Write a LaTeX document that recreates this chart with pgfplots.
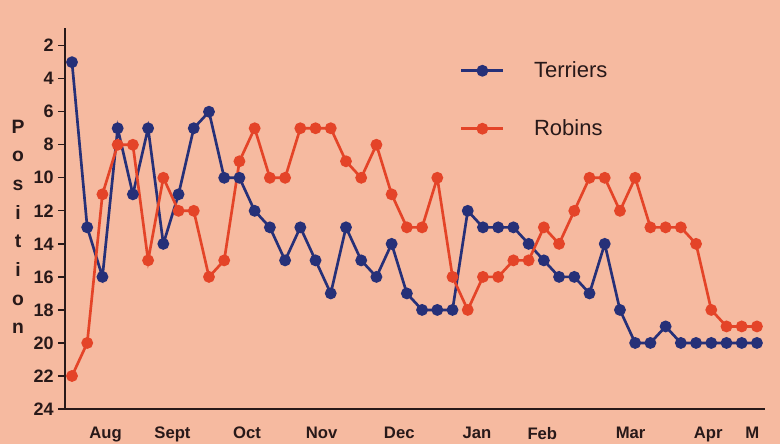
\documentclass[border=0pt]{standalone}
\usepackage{pgfplots}
\pgfplotsset{compat=1.18}
\usepackage{fontspec}
\setmainfont{Liberation Sans}
\definecolor{bg}{RGB}{246,186,160}
\definecolor{terr}{RGB}{38,48,120}
\definecolor{rob}{RGB}{228,68,40}
\definecolor{ink}{RGB}{40,25,25}
\begin{document}
\begin{tikzpicture}[x=1pt,y=1pt]
\fill[bg] (0,0) rectangle (585,333);
\path[use as bounding box] (0,0) rectangle (585,333);
\begin{axis}[
  at={(48.75pt,26.25pt)}, anchor=south west,
  scale only axis, width=525pt, height=285.75pt,
  xmin=-0.46, xmax=45.53, ymin=0.93, ymax=24, y dir=reverse,
  axis x line*=bottom, axis y line*=left,
  axis line style={line width=1.8pt, ink},
  ytick={2,4,...,24},
  xtick={2.2,6.6,11.5,16.4,21.5,26.6,30.9,36.7,41.8,44.7},
  xticklabels={Aug,Sept,Oct,Nov,Dec,Jan,Feb,Mar,Apr,M},
  x tick style={draw=none},
  y tick style={line width=1pt, ink},
  major tick length=5pt, tick align=outside,
  /pgf/number format/assume math mode=true,
  yticklabel style={font=\fontsize{13.5}{13.5}\selectfont\bfseries, text=ink},
  xticklabel style={font=\fontsize{12.5}{12.5}\selectfont\bfseries, text=ink, yshift=-5pt},
  ylabel={P\\o\\s\\i\\t\\i\\o\\n},
  ylabel style={rotate=-90, at={(axis description cs:-0.0671,0.478)}, anchor=center,
    align=center, font=\fontsize{14.5}{21.5}\selectfont\bfseries, text=ink},
  legend style={draw=none, fill=none, at={(0.564,0.919)}, anchor=north west,
    font=\fontsize{16.5}{16.5}\selectfont, text=ink, cells={anchor=west},
    row sep=26pt, column sep=20pt, inner sep=0pt},
  legend image code/.code={\draw[mark repeat=2,mark phase=2,#1] plot coordinates {(0pt,0pt) (15.75pt,0pt) (31.5pt,0pt)};},
  clip=false,
]
\addplot[terr, line width=2pt, mark=*, mark size=3.4pt, mark options={fill=terr, draw=terr}] coordinates {
(0,3) (1,13) (2,16) (3,7) (4,11) (5,7) (6,14) (7,11) (8,7) (9,6)
(10,10) (11,10) (12,12) (13,13) (14,15) (15,13) (16,15) (17,17) (18,13) (19,15)
(20,16) (21,14) (22,17) (23,18) (24,18) (25,18) (26,12) (27,13) (28,13) (29,13)
(30,14) (31,15) (32,16) (33,16) (34,17) (35,14) (36,18) (37,20) (38,20) (39,19)
(40,20) (41,20) (42,20) (43,20) (44,20) (45,20)};
\addlegendentry{Terriers}
\addplot[rob, line width=2pt, mark=*, mark size=3.4pt, mark options={fill=rob, draw=rob}] coordinates {
(0,22) (1,20) (2,11) (3,8) (4,8) (5,15) (6,10) (7,12) (8,12) (9,16)
(10,15) (11,9) (12,7) (13,10) (14,10) (15,7) (16,7) (17,7) (18,9) (19,10)
(20,8) (21,11) (22,13) (23,13) (24,10) (25,16) (26,18) (27,16) (28,16) (29,15)
(30,15) (31,13) (32,14) (33,12) (34,10) (35,10) (36,12) (37,10) (38,13) (39,13)
(40,13) (41,14) (42,18) (43,19) (44,19) (45,19)};
\addlegendentry{Robins}
\end{axis}
\end{tikzpicture}
\end{document}
